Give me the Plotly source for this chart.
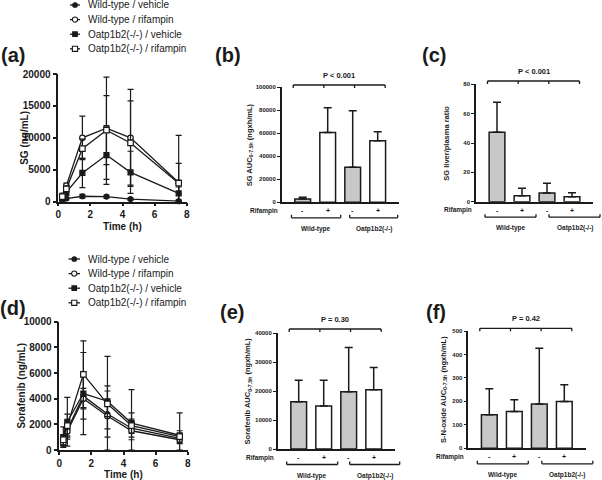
import plotly.graph_objects as go

W, H = 602, 480
FONT = "Liberation Sans, Arial, Helvetica, sans-serif"
INK = "#1a1a1a"

# ---------------- data ----------------
time_h = [0.25, 0.5, 1.5, 3, 4.5, 7.5]
series_names = ["Wild-type / vehicle", "Wild-type / rifampin",
                "Oatp1b2(-/-) / vehicle", "Oatp1b2(-/-) / rifampin"]

# (a) SG plasma concentration (ng/mL), mean and SD
sg_wt_veh = [250, 500, 850, 800, 400, 80]
sg_wt_veh_sd = [100, 200, 300, 250, 150, 50]
sg_wt_rif = [900, 2500, 10000, 11500, 10000, 3000]
sg_wt_rif_sd = [400, 400, 3400, 8000, 7600, 7400]
sg_ko_veh = [500, 1500, 4500, 7300, 4600, 1300]
sg_ko_veh_sd = [300, 500, 2300, 4600, 3300, 1000]
sg_ko_rif = [800, 2000, 8300, 11200, 9200, 2900]
sg_ko_rif_sd = [400, 500, 1500, 5400, 6600, 3100]

# (d) Sorafenib plasma concentration (ng/mL), mean and SD
sor_wt_veh = [650, 1600, 4200, 2800, 1700, 900]
sor_wt_veh_sd = [300, 500, 1800, 1800, 700, 300]
sor_wt_rif = [550, 1450, 4000, 2650, 1500, 800]
sor_wt_rif_sd = [250, 600, 800, 1000, 700, 300]
sor_ko_veh = [1000, 2200, 4400, 3800, 2100, 1150]
sor_ko_veh_sd = [800, 1900, 3200, 1200, 800, 350]
sor_ko_rif = [800, 1900, 5900, 3600, 1900, 1050]
sor_ko_rif_sd = [400, 900, 2600, 3700, 2800, 1850]

# bar panels: order WT vehicle, WT rifampin, KO vehicle, KO rifampin
rifampin_labels = ["-", "+", "-", "+"]
group_labels = ["Wild-type", "Oatp1b2(-/-)"]

sg_auc = [2900, 60600, 30400, 53600]
sg_auc_sd = [1400, 21700, 49300, 7800]
sg_ratio = [47.3, 4.1, 5.9, 3.4]
sg_ratio_sd = [20.4, 5.0, 6.6, 2.7]
sor_auc = [16300, 14900, 19800, 20500]
sor_auc_sd = [7500, 8900, 15300, 7700]
nox_auc = [143, 157, 189, 200]
nox_auc_sd = [111, 50, 237, 71]

p_texts = ["P < 0.001", "P < 0.001", "P = 0.30", "P = 0.42"]

# ---------------- styles ----------------
bar_fill = ["#c8c8c8", "white", "#c8c8c8", "white"]
marker_styles = [
    dict(symbol="circle", color=INK, size=5),
    dict(symbol="circle", color="white", size=5.5),
    dict(symbol="square", color=INK, size=5),
    dict(symbol="square", color="white", size=5.5),
]


def fx(px):
    return px / W


def fy(py):
    return 1 - py / H


def bold(size):
    return dict(family=FONT, size=size, color=INK, weight="bold")


fig = go.Figure()
layout = {}
shapes = []
anns = []


def add_text(x, y, text, size, xanchor="center", yanchor="middle", angle=0, weight="bold"):
    anns.append(dict(x=fx(x), y=fy(y), xref="paper", yref="paper", text=text,
                     showarrow=False, xanchor=xanchor, yanchor=yanchor, textangle=angle,
                     borderpad=0,
                     font=dict(family=FONT, size=size, color=INK, weight=weight)))


def add_line(x0, y0, x1, y1, w=1.3):
    shapes.append(dict(type="line", xref="paper", yref="paper",
                       x0=fx(x0), y0=fy(y0), x1=fx(x1), y1=fy(y1),
                       line=dict(color=INK, width=w)))


# ---------------- line panels ----------------
line_panels = [
    dict(ax="", left=58.3, right=186.7, top=74, bottom=201.7, yr=[0, 20000], dy=5000,
         ytitle="SG (ng/mL)", ytx=25, label="(a)", lab=(13, 55), leg_y0=5, leg_x=(70, 80),
         series=[(sg_wt_veh, sg_wt_veh_sd), (sg_wt_rif, sg_wt_rif_sd),
                 (sg_ko_veh, sg_ko_veh_sd), (sg_ko_rif, sg_ko_rif_sd)]),
    dict(ax="2", left=59.3, right=187.7, top=321.7, bottom=450, yr=[0, 10000], dy=2000,
         ytitle="Sorafenib (ng/mL)", ytx=21.7, label="(d)", lab=(13, 308), leg_y0=259, leg_x=(68.5, 80),
         series=[(sor_wt_veh, sor_wt_veh_sd), (sor_wt_rif, sor_wt_rif_sd),
                 (sor_ko_veh, sor_ko_veh_sd), (sor_ko_rif, sor_ko_rif_sd)]),
]

for p in line_panels:
    a = p["ax"]
    layout["xaxis" + a] = dict(domain=[fx(p["left"]), fx(p["right"])], range=[0, 8], dtick=2,
                               anchor="y" + a, showline=True, linecolor=INK, linewidth=1.5,
                               ticks="outside", ticklen=3, tickwidth=1.5, tickcolor=INK,
                               showgrid=False, zeroline=False, tickfont=bold(10), automargin=False)
    layout["yaxis" + a] = dict(domain=[fy(p["bottom"]), fy(p["top"])], range=p["yr"], dtick=p["dy"],
                               anchor="x" + a, showline=True, linecolor=INK, linewidth=1.5,
                               ticks="outside", ticklen=4, tickwidth=1.5, tickcolor=INK,
                               showgrid=False, zeroline=False, tickfont=bold(10), tickformat="d",
                               automargin=False)
    for k, (m, sd) in enumerate(p["series"]):
        st = marker_styles[k]
        fig.add_trace(go.Scatter(
            x=time_h, y=m, mode="lines+markers", name=series_names[k],
            line=dict(color=INK, width=1.3),
            marker=dict(symbol=st["symbol"], color=st["color"], size=st["size"],
                        line=dict(color=INK, width=1.2)),
            error_y=dict(type="data", array=sd, arrayminus=[min(s, v) for v, s in zip(m, sd)],
                         symmetric=False, color=INK, thickness=1.2, width=3),
            xaxis="x" + a, yaxis="y" + a, cliponaxis=False, showlegend=False))
    cx = (p["left"] + p["right"]) / 2
    add_text(cx, p["bottom"] + 24.5, "Time (h)", 10)
    add_text(p["ytx"], (p["top"] + p["bottom"]) / 2, p["ytitle"], 10, angle=-90)
    add_text(p["lab"][0], p["lab"][1], p["label"], 20)
    # legend
    lx0, lx1 = p["leg_x"]
    mx = (lx0 + lx1) / 2
    for k, name in enumerate(series_names):
        yy = p["leg_y0"] + k * 14.6
        add_line(lx0, yy, lx1, yy, 1.3)
        st = marker_styles[k]
        r = 2.3 if st["color"] == INK else 2.6
        shapes.append(dict(type="circle" if st["symbol"] == "circle" else "rect",
                           xref="paper", yref="paper",
                           x0=fx(mx - r), x1=fx(mx + r), y0=fy(yy + r), y1=fy(yy - r),
                           fillcolor=st["color"], line=dict(color=INK, width=1.1)))
        add_text(lx1 + 7, yy, name, 10, xanchor="left", weight="normal")

# ---------------- bar panels ----------------
XR = [-0.84, 3.85]
UNIT = 25.0
bar_panels = [
    dict(ax="3", left=281.7, top=87.3, bottom=202.3, yr=[0, 100000], dy=20000,
         mean=sg_auc, sd=sg_auc_sd, ytitle="SG AUC<sub>0-7.5h</sub> (ngxh/mL)", ytx=249.5,
         br_y=85, wt=(-0.45, 1.52), ko=(1.88, 3.8), label="(b)", lab=(228, 55)),
    dict(ax="4", left=476, top=84.3, bottom=201.7, yr=[0, 80], dy=20,
         mean=sg_ratio, sd=sg_ratio_sd, ytitle="SG liver/plasma ratio", ytx=446.7,
         br_y=81, wt=(-0.48, 1.56), ko=(2.08, 4.12), label="(c)", lab=(434, 55)),
    dict(ax="5", left=277.7, top=333.3, bottom=449, yr=[0, 40000], dy=10000,
         mean=sor_auc, sd=sor_auc_sd, ytitle="Sorafenib AUC<sub>0-7.5h</sub> (ngxh/mL)", ytx=248.3,
         br_y=329, wt=(-0.48, 1.56), ko=(2.04, 4.04), label="(e)", lab=(232, 312)),
    dict(ax="6", left=468.3, top=331, bottom=448.3, yr=[0, 500], dy=100,
         mean=nox_auc, sd=nox_auc_sd, ytitle="S-N-oxide AUC<sub>0-7.5h</sub> (ngxh/mL)", ytx=443.3,
         br_y=328.3, wt=(-0.48, 1.56), ko=(2.1, 4.14), label="(f)", lab=(436, 312)),
]

for j, p in enumerate(bar_panels):
    a = p["ax"]
    right = p["left"] + (XR[1] - XR[0]) * UNIT

    def dx(v, p=p):
        return p["left"] + (v - XR[0]) * UNIT

    layout["xaxis" + a] = dict(domain=[fx(p["left"]), fx(right)], range=XR, anchor="y" + a,
                               showline=True, linecolor=INK, linewidth=1.5, ticks="",
                               showticklabels=False, showgrid=False, zeroline=False,
                               automargin=False)
    layout["yaxis" + a] = dict(domain=[fy(p["bottom"]), fy(p["top"])], range=p["yr"], dtick=p["dy"],
                               anchor="x" + a, showline=True, linecolor=INK, linewidth=1.5,
                               ticks="outside", ticklen=3, tickwidth=1.2, tickcolor=INK,
                               showgrid=False, zeroline=False, tickfont=bold(6), tickformat="d",
                               automargin=False)
    xs = list(range(len(rifampin_labels)))
    fig.add_trace(go.Bar(
        x=xs, y=p["mean"], width=0.63,
        marker=dict(color=bar_fill, line=dict(color=INK, width=1.5)),
        error_y=dict(type="data", array=p["sd"], arrayminus=[0] * len(xs), symmetric=False,
                     color=INK, thickness=1.5, width=4),
        xaxis="x" + a, yaxis="y" + a, showlegend=False))
    # y title
    add_text(p["ytx"], (p["top"] + p["bottom"]) / 2, p["ytitle"], 7.5, angle=-90)
    # rifampin row
    ry = p["bottom"] + 8.5
    add_text(p["left"] - 3, ry, "Rifampin", 6.5, xanchor="right")
    for k, lab in enumerate(rifampin_labels):
        add_text(dx(k), ry, lab, 7)
    # group brackets
    by = p["bottom"] + 15.5
    for (g0, g1), name in zip([p["wt"], p["ko"]], group_labels):
        x0, x1 = dx(g0), dx(g1)
        add_line(x0, by, x1, by)
        add_line(x0, by, x0, by - 3)
        add_line(x1, by, x1, by - 3)
        add_text((x0 + x1) / 2, p["bottom"] + 26.5, name, 6.5)
    # top comparison bracket
    t0, t1 = dx(-0.38), dx(3.3)
    ty = p["br_y"]
    add_line(t0, ty, t1, ty)
    for f in (0, 1 / 3, 2 / 3, 1):
        xx = t0 + (t1 - t0) * f
        add_line(xx, ty, xx, ty + 3)
    add_text((t0 + t1) / 2, ty - 10, p_texts[j], 7.5)
    add_text(p["lab"][0], p["lab"][1], p["label"], 20)

layout.update(dict(width=W, height=H, margin=dict(l=0, r=0, t=0, b=0, autoexpand=False),
                   paper_bgcolor="white", plot_bgcolor="white", showlegend=False,
                   barmode="overlay", shapes=shapes, annotations=anns,
                   font=dict(family=FONT, color=INK)))
fig.update_layout(**layout)
fig.write_html("out.html", config={"displayModeBar": False},
               post_script="document.body.style.margin='0';document.body.style.overflow='hidden';")
